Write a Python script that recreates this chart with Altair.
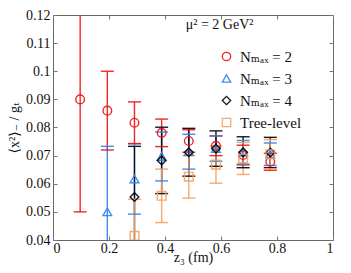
import altair as alt
import pandas as pd

series_names = ["Nₘₐₓ = 2", "Nₘₐₓ = 3", "Nₘₐₓ = 4", "Tree-level"]
series_colors = ["#ee1111", "#2f80f0", "#000000", "#f4a060"]
series_shapes = ["circle", "triangle-up", "diamond", "square"]
series_opac = [0.9, 0.9, 0.9, 0.6]

z_all = [0.097, 0.194, 0.291, 0.388, 0.485, 0.582, 0.679, 0.776]

z_r = z_all
val_r = [0.090, 0.086, 0.0817, 0.0781, 0.0752, 0.0735, 0.0702, 0.0678]
err_r = [0.040, 0.014, 0.0074, 0.0049, 0.0040, 0.0035, 0.0035, 0.0030]

z_b = z_all[1:]
val_b = [0.050, 0.0617, 0.0697, 0.0714, 0.0725, 0.0712, 0.0705]
err_b = [0.0233, 0.0125, 0.0087, 0.0062, 0.0045, 0.0042, 0.0040]

z_k = z_all[2:]
val_k = [0.0553, 0.0683, 0.0712, 0.0725, 0.0712, 0.0711]
err_k = [0.0180, 0.0118, 0.0085, 0.0063, 0.0055, 0.0054]

z_o = z_all[2:]
val_o = [0.0415, 0.0557, 0.0625, 0.0668, 0.0690, 0.0705]
err_o = [0.0130, 0.0095, 0.0076, 0.0066, 0.0057, 0.0052]

ann_x = [0.595]
ann_y = [0.1163]
ann_text = ["μ² = 2 GeV²"]

rows = []
for name, zs, vs, es in zip(series_names, [z_r, z_b, z_k, z_o], [val_r, val_b, val_k, val_o], [err_r, err_b, err_k, err_o]):
    for z, v, e in zip(zs, vs, es):
        rows.append({"series": name, "z": z, "val": v, "lo": v - e, "hi": v + e})
df = pd.DataFrame(rows)
ann = pd.DataFrame({"x": ann_x, "y": ann_y, "t": ann_text})

FONT = "Liberation Serif, DejaVu Serif, serif"
W, H = 280, 225

xs = alt.Scale(domain=[0, 1], nice=False)
ys = alt.Scale(domain=[0.04, 0.12], nice=False)
cscale = alt.Scale(domain=series_names, range=series_colors)
col = alt.Color("series:N", scale=cscale,
                legend=alt.Legend(title=None, orient="none", legendX=166, legendY=34,
                                  labelFont=FONT, labelFontSize=15, rowPadding=6,
                                  symbolStrokeWidth=1.3, symbolSize=70, padding=0, labelOffset=6,
                                  symbolFillColor="white", labelColor="#111"))
shp = alt.Shape("series:N", scale=alt.Scale(domain=series_names, range=series_shapes))
opa = alt.Opacity("series:N", scale=alt.Scale(domain=series_names, range=series_opac))

tick_vals_x = [0, 0.2, 0.4, 0.6, 0.8, 1]
tick_vals_y = [0.04, 0.05, 0.06, 0.07, 0.08, 0.09, 0.1, 0.11, 0.12]

ax_main_x = alt.Axis(values=tick_vals_x, format="~g", ticks=False, domain=False, grid=False,
                     title="z₃ (fm)", labelFont=FONT, labelFontSize=14, titleFont=FONT,
                     titleFontSize=14, titleFontWeight="normal", labelColor="#111", titleColor="#111",
                     labelPadding=1, titleBaseline="alphabetic", titleY=21)
ax_main_y = alt.Axis(values=tick_vals_y, format="~g", ticks=False, domain=False, grid=False,
                     title="⟨x²⟩₋ / gₜ", labelFont=FONT, labelFontSize=14, titleFont=FONT,
                     titleFontSize=14, titleFontWeight="normal", labelColor="#111", titleColor="#111",
                     titlePadding=4, labelPadding=3)


def tick_axis(orient, vals):
    return alt.Axis(orient=orient, offset=-(H if orient in ("top", "bottom") else W), values=vals,
                    labels=False, title=None, domain=False, grid=False, tickSize=4,
                    tickColor="#777", tickWidth=1)


rules = alt.Chart(df).mark_rule(strokeWidth=1.4, clip=True).encode(
    x=alt.X("z:Q", scale=xs, axis=ax_main_x),
    y=alt.Y("lo:Q", scale=ys, axis=ax_main_y),
    y2="hi:Q",
    color=col, opacity=opa,
)
caps_hi = alt.Chart(df).mark_rule(strokeWidth=1.4, clip=True, xOffset=-6.5, x2Offset=6.5).encode(
    x=alt.X("z:Q", scale=xs, axis=tick_axis("top", tick_vals_x)),
    x2="z:Q",
    y=alt.Y("hi:Q", scale=ys, axis=tick_axis("right", tick_vals_y)),
    color=col, opacity=opa,
)
caps_lo = alt.Chart(df).mark_rule(strokeWidth=1.4, clip=True, xOffset=-6.5, x2Offset=6.5).encode(
    x=alt.X("z:Q", scale=xs, axis=tick_axis("bottom", tick_vals_x)),
    x2="z:Q",
    y=alt.Y("lo:Q", scale=ys, axis=tick_axis("left", tick_vals_y)),
    color=col, opacity=opa,
)
pts = alt.Chart(df).mark_point(filled=False, size=75, strokeWidth=1.4, clip=True).encode(
    x=alt.X("z:Q", scale=xs, axis=None),
    y=alt.Y("val:Q", scale=ys, axis=None),
    color=col, shape=shp, opacity=opa,
)
txt = alt.Chart(ann).mark_text(font=FONT, fontSize=14, align="center", baseline="middle", color="#111").encode(
    x=alt.X("x:Q", scale=xs, axis=None),
    y=alt.Y("y:Q", scale=ys, axis=None),
    text="t:N",
)

chart = alt.layer(rules, caps_hi, caps_lo, pts, txt).resolve_axis(x="independent", y="independent").properties(
    width=W, height=H,
    autosize=alt.AutoSizeParams(type="none"),
    padding={"left": 45, "top": 7, "right": 10, "bottom": 25},
).configure_view(stroke="#666", strokeWidth=1)

chart.save("out.html", embed_options={"renderer": "svg", "actions": False})
